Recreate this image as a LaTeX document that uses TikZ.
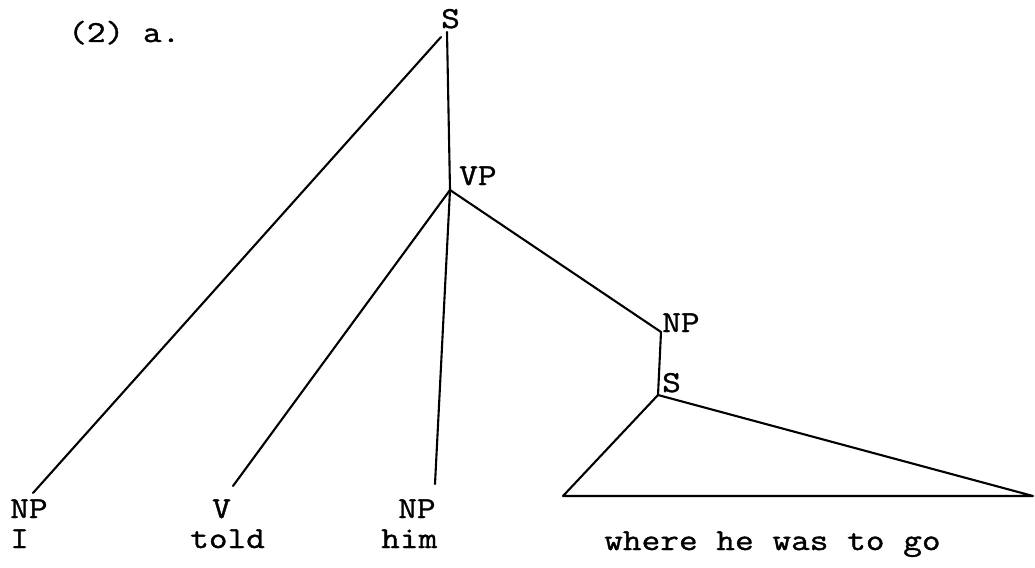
\documentclass[tikz,border=0pt]{standalone}
\usepackage{fontspec}
\newfontfamily\tw{Latin Modern Mono}[FakeStretch=1.19,FakeBold=1.2]
\begin{document}
\begin{tikzpicture}[x=1pt,y=-1pt,
  lbl/.style={inner sep=0pt,anchor=base west,font=\tw\fontsize{30.5}{32}\selectfont},
  br/.style={line width=2.1pt,line cap=round,line join=round}]
\useasboundingbox (0,0) rectangle (1035,567);
% labels
\node[lbl] (title) at (68,42) {(2) a.};
\node[lbl] (sTop) at (441,28) {S};
\node[lbl] (vpL) at (459,185) {VP};
\node[lbl] (np2L) at (662,332) {NP};
\node[lbl] (s2L) at (662,392) {S};
\node[lbl] (np1) at (10,518) {NP};
\node[lbl] (v) at (212,518) {V};
\node[lbl] (np3) at (398,518) {NP};
\node[lbl] (wI) at (10,548) {I};
\node[lbl] (wTold) at (190,548) {told};
\node[lbl] (wHim) at (381,548) {him};
\node[lbl] (wWhere) at (604,550) {where he was to go};
% branch points
\coordinate (s1) at (447,32);
\coordinate (s1l) at (441,37);
\coordinate (vp) at (450,190);
\coordinate (np2) at (661,332);
\coordinate (s2) at (658,395);
\coordinate (e1) at (33,493);
\coordinate (e2) at (233,486);
\coordinate (e3) at (435,484);
\coordinate (tl) at (563,496);
\coordinate (tr) at (1033,496);
% connectors
\draw[br] (s1l) -- (e1);
\draw[br] (s1) -- (vp);
\draw[br] (vp) -- (e2);
\draw[br] (vp) -- (e3);
\draw[br] (vp) -- (np2);
\draw[br] (np2) -- (s2);
\draw[br] (tl) -- (s2) -- (tr) -- cycle;
\end{tikzpicture}
\end{document}
